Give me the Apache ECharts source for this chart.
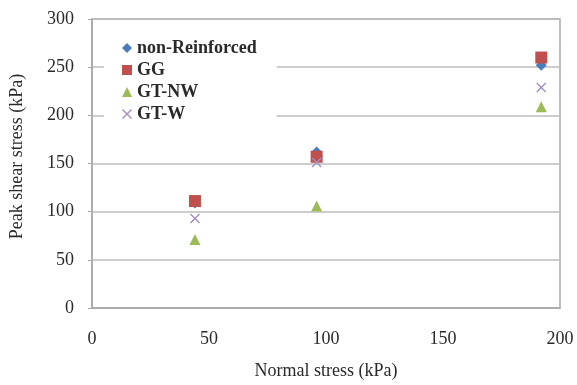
<!DOCTYPE html>
<html>
<head>
<meta charset="utf-8">
<script src="https://cdn.jsdelivr.net/npm/echarts@6/dist/echarts.min.js"></script>
<style>
  html, body { margin: 0; padding: 0; background: #fff; }
  #chart { width: 577px; height: 385px; }
</style>
</head>
<body>
<div id="chart"></div>
<script>
// Normal stress applied in each direct shear test (kPa)
const normalStress = [44, 96, 192];

// Peak shear stress for each reinforcement case (kPa)
const nonReinforced = [109, 162, 252];
const gg = [111, 157, 260];
const gtNW = [71, 106, 209];
const gtW = [93, 151, 229];

const seriesNames = ['non-Reinforced', 'GG', 'GT-NW', 'GT-W'];
const seriesValues = [nonReinforced, gg, gtNW, gtW];

const xTicks = { min: 0, max: 200, interval: 50 };
const yTicks = { min: 0, max: 300, interval: 50 };

const crossPath = 'path://M0,1 L1,0 L5,4 L9,0 L10,1 L6,5 L10,9 L9,10 L5,6 L1,10 L0,9 L4,5 Z';
const markers = [
  { symbol: 'diamond', size: 11, color: '#4A7EBB' },
  { symbol: 'rect', size: 12, color: '#C0504D' },
  { symbol: 'triangle', size: 11, color: '#9BBB59' },
  { symbol: crossPath, size: 10, color: '#A28FC4' }
];

const font = '"Liberation Serif", "Times New Roman", serif';
const textColor = '#2a2a2a';

const chart = echarts.init(document.getElementById('chart'), null, { renderer: 'canvas' });

chart.setOption({
  animation: false,
  backgroundColor: '#ffffff',
  grid: {
    left: 92, right: 17, top: 19, bottom: 75,
    show: true, borderColor: '#a8a8a8', borderWidth: 1.5
  },
  legend: {
    orient: 'vertical',
    left: 104, top: 33,
    itemGap: 4,
    itemWidth: 10, itemHeight: 10,
    backgroundColor: '#ffffff',
    padding: [6, 20, 8, 18],
    textStyle: { fontFamily: font, fontSize: 18, fontWeight: 'bold', color: textColor },
    data: seriesNames.map((n, i) => ({ name: n, icon: markers[i].symbol }))
  },
  xAxis: {
    type: 'value',
    min: xTicks.min, max: xTicks.max, interval: xTicks.interval,
    name: 'Normal stress (kPa)',
    nameLocation: 'middle', nameGap: 54,
    nameTextStyle: { fontFamily: font, fontSize: 18, color: textColor },
    axisLine: { show: true, lineStyle: { color: '#a8a8a8', width: 1.5 } },
    axisTick: { show: false },
    axisLabel: { fontFamily: font, fontSize: 18, color: textColor, margin: 22 },
    splitLine: { show: false }
  },
  yAxis: {
    type: 'value',
    min: yTicks.min, max: yTicks.max, interval: yTicks.interval,
    name: 'Peak shear stress (kPa)',
    nameLocation: 'middle', nameGap: 66,
    nameTextStyle: { fontFamily: font, fontSize: 18, color: textColor, padding: [0, 0, 0, 14] },
    axisLine: { show: true, lineStyle: { color: '#a8a8a8', width: 1.5 } },
    axisTick: { show: true, inside: false, length: 4, lineStyle: { color: '#a8a8a8' } },
    axisLabel: { fontFamily: font, fontSize: 18, color: textColor, margin: 18 },
    splitLine: { show: true, lineStyle: { color: '#bdbdbd', width: 1.5 } }
  },
  series: seriesNames.map((name, i) => ({
    name,
    type: 'scatter',
    symbol: markers[i].symbol,
    symbolSize: markers[i].size,
    itemStyle: { color: markers[i].color, opacity: 1 },
    data: normalStress.map((x, j) => [x, seriesValues[i][j]])
  }))
});
</script>
</body>
</html>
